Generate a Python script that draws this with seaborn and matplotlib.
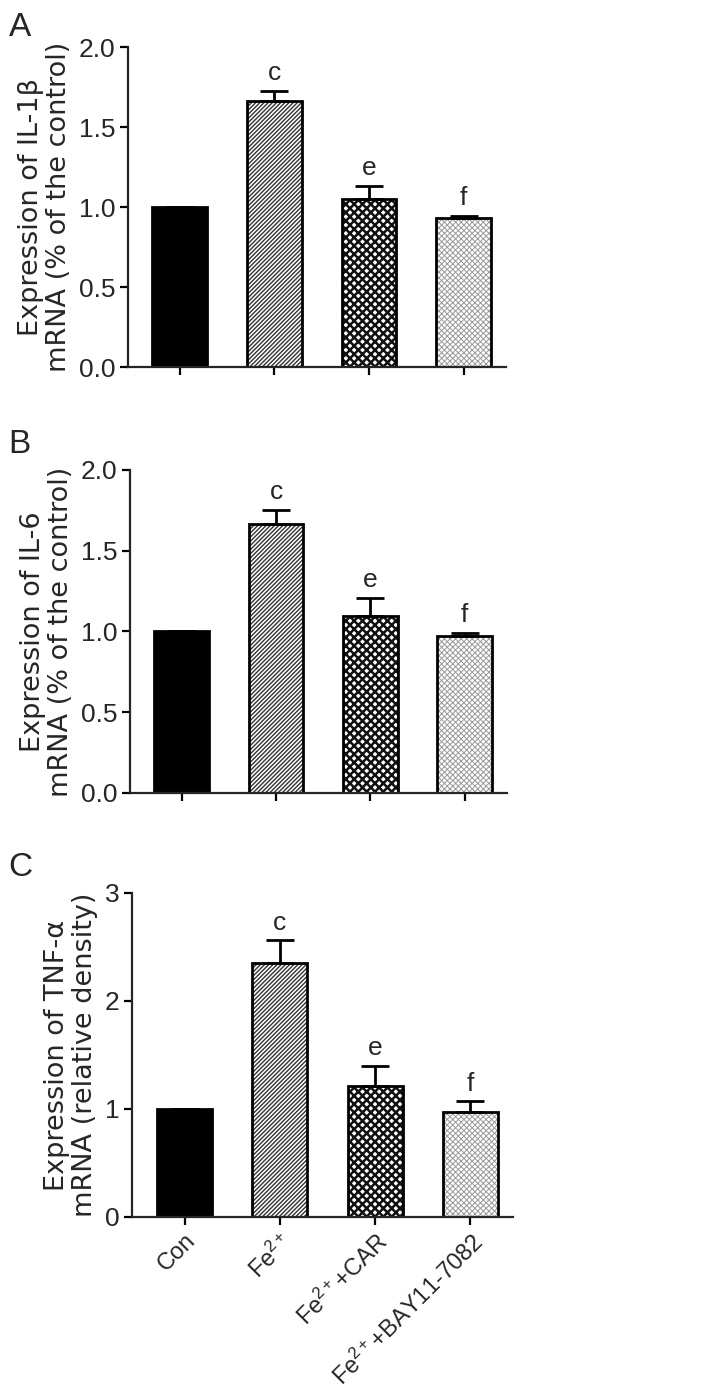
import numpy as np
import pandas as pd
import matplotlib
matplotlib.use("Agg")
import matplotlib.pyplot as plt
import seaborn as sns

groups = ["Con", "Fe$^{2+}$", "Fe$^{2+}$+CAR", "Fe$^{2+}$+BAY11-7082"]
il1b_mean = [1.00, 1.665, 1.05, 0.93]
il1b_err = [0.0, 0.06, 0.083, 0.015]
il6_mean = [1.00, 1.665, 1.095, 0.97]
il6_err = [0.0, 0.087, 0.115, 0.02]
tnf_mean = [1.00, 2.355, 1.21, 0.97]
tnf_err = [0.0, 0.205, 0.19, 0.10]
sig_letters = ["", "c", "e", "f"]

sns.set_style("ticks")
plt.rcParams["font.family"] = ["Liberation Sans", "DejaVu Sans"]
plt.rcParams["mathtext.fontset"] = "custom"
plt.rcParams["mathtext.rm"] = "Liberation Sans"
plt.rcParams["mathtext.it"] = "Liberation Sans:italic"

# stile delle barre: riempimento, tratteggio, colore e spessore del tratteggio
face_colors = ["black", "white", "white", "white"]
hatches = [None, "////////", "xxxx", "xxxxxx"]
hatch_colors = ["black", "#333333", "#111111", "#9a9a9a"]
hatch_widths = [1.0, 1.0, 1.8, 0.7]

panels = [
    ("A", il1b_mean, il1b_err, "Expression of IL-1\u03b2\nmRNA (% of the control)",
     [0.0, 0.5, 1.0, 1.5, 2.0], ["0.0", "0.5", "1.0", "1.5", "2.0"],
     [0.179, 0.7354, 0.530, 0.2307], 0.991),
    ("B", il6_mean, il6_err, "Expression of IL-6\nmRNA (% of the control)",
     [0.0, 0.5, 1.0, 1.5, 2.0], ["0.0", "0.5", "1.0", "1.5", "2.0"],
     [0.182, 0.4283, 0.528, 0.2329], 0.691),
    ("C", tnf_mean, tnf_err, "Expression of TNF-\u03b1\nmRNA (relative density)",
     [0, 1, 2, 3], ["0", "1", "2", "3"],
     [0.185, 0.1226, 0.534, 0.2336], 0.386),
]

fig = plt.figure(figsize=(7.14, 13.87), dpi=100)

for k, (tag, means, errs, ylab, yt, ytl, rect, ytag) in enumerate(panels):
    ax = fig.add_axes(rect)
    df = pd.DataFrame({"group": groups, "value": means})

    # barre riempite con il tratteggio
    sns.barplot(data=df, x="group", y="value", hue="group", palette=face_colors,
                legend=False, width=0.58, linewidth=0, saturation=1, ax=ax)
    for p, h, hc, hw in zip(ax.patches, hatches, hatch_colors, hatch_widths):
        if h:
            p.set_hatch(h)
            p.set_edgecolor(hc)
            if hasattr(p, "set_hatchcolor"):
                p.set_hatchcolor(hc)
            if hasattr(p, "set_hatch_linewidth"):
                p.set_hatch_linewidth(hw)
    # contorni neri
    sns.barplot(data=df, x="group", y="value", fill=False, color="black",
                width=0.58, linewidth=2, ax=ax)

    x = np.arange(len(groups))
    ax.errorbar(x, means, yerr=[np.zeros(len(errs)), errs], fmt="none",
                ecolor="black", elinewidth=2, capsize=10, capthick=2, zorder=5)
    for xi, m, e, s in zip(x, means, errs, sig_letters):
        if s:
            ax.annotate(s, xy=(xi, m + e), xytext=(0, 4), textcoords="offset points",
                        ha="center", va="bottom", fontsize=19)

    ax.set_xlim(-0.55, 3.45)
    ax.set_ylim(0, yt[-1])
    ax.set_yticks(yt)
    ax.set_yticklabels(ytl, fontsize=19)
    sns.despine(ax=ax)
    for side in ["left", "bottom"]:
        ax.spines[side].set_linewidth(1.6)
    ax.tick_params(axis="both", width=1.6, length=6, color="black", pad=3)
    ax.set_ylabel(ylab, fontsize=19.5, linespacing=1.1, labelpad=5,
                  family=["DejaVu Sans"])
    ax.set_xlabel("")
    ax.set_xticks(x)
    if tag == "C":
        ax.set_xticklabels(groups, rotation=45, ha="right", rotation_mode="anchor",
                           fontsize=17)
    else:
        ax.set_xticklabels([])
    fig.text(0.012, ytag, tag, fontsize=24, va="top", ha="left")

plt.savefig("out.png", dpi=100)
